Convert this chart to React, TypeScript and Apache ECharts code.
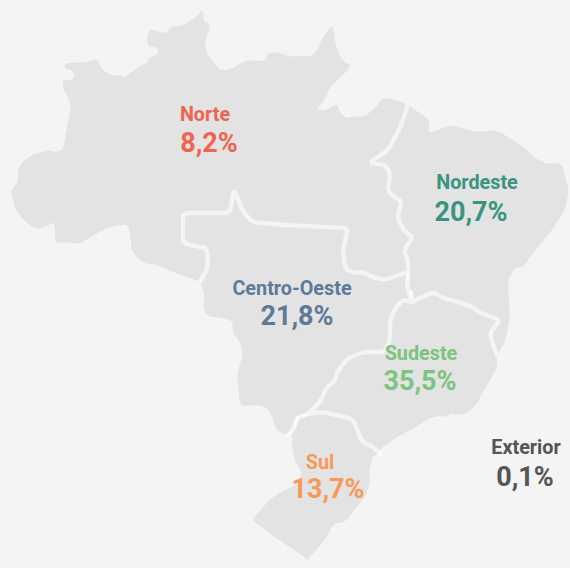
import React, { useEffect, useRef } from "react";
import * as echarts from "echarts";

type Pt = [number, number];

// Region labels and shares
const regionNames = ["Norte", "Nordeste", "Centro-Oeste", "Sudeste", "Sul", "Exterior"];
const regionShares = ["8,2%", "20,7%", "21,8%", "35,5%", "13,7%", "0,1%"];
const regionColors = ["#ef6450", "#3a9480", "#5d7a98", "#7cc47f", "#f7995a", "#555555"];
const nameAnchors: Pt[] = [[205, 114], [477, 182], [292, 288], [421, 353], [320, 462], [526, 447]];
const shareAnchors: Pt[] = [[209, 143], [471, 212], [297, 316], [420, 381], [328, 489], [525, 477]];

// Coast / frontier sections
const coastNorte: Pt[] = [
  [200, 282], [195, 280], [173, 272], [157, 265], [143, 263], [132, 252], [130, 233], [127, 224], [110, 227],
  [97, 233], [80, 244], [68, 242], [55, 243], [55, 230], [54, 222], [45, 227], [35, 229], [23, 220], [15, 208],
  [12, 197], [11, 190], [18, 182], [18, 170], [22, 162], [32, 155], [48, 150], [55, 152], [63, 150], [67, 127],
  [71, 107], [68, 97], [63, 88], [63, 80], [72, 80], [75, 75], [72, 70], [65, 69], [65, 63], [90, 62], [97, 58],
  [101, 68], [107, 73], [115, 76], [121, 74], [123, 78], [132, 72], [138, 67], [147, 63], [150, 57], [157, 55],
  [159, 50], [155, 47], [148, 46], [147, 40], [149, 29], [157, 31], [163, 33], [168, 32], [170, 27], [180, 26],
  [187, 23], [193, 19], [198, 15], [202, 9], [204, 17], [203, 20], [209, 24], [210, 29], [206, 38], [205, 47],
  [209, 57], [217, 67], [223, 71], [230, 69], [240, 64], [248, 60], [258, 61], [265, 61], [268, 53], [278, 52],
  [285, 55], [291, 57], [297, 55], [305, 57], [313, 55], [318, 48], [323, 37], [327, 32], [332, 26], [334, 32],
  [335, 42], [340, 57], [345, 62], [351, 65], [347, 71], [340, 78], [332, 85], [327, 93], [323, 102], [316, 109],
  [325, 111], [337, 103], [340, 113], [347, 118], [355, 116], [363, 117], [373, 110], [383, 98], [392, 99],
  [405, 103], [408, 105],
];
const coastNordeste: Pt[] = [
  [408, 105], [430, 120], [428, 132], [433, 132], [442, 128], [452, 125], [465, 129], [478, 132], [492, 130],
  [502, 133], [515, 142], [525, 148], [535, 158], [545, 163], [562, 164], [564, 173], [569, 190], [565, 210],
  [552, 230], [538, 247], [528, 260], [522, 268], [515, 267], [508, 280], [509, 300], [510, 315], [507, 333],
  [505, 342], [497, 355],
];
const coastSudeste: Pt[] = [
  [497, 355], [497, 367], [492, 377], [480, 397], [478, 403], [467, 413], [457, 415], [452, 413], [445, 417],
  [437, 416], [428, 419], [413, 429], [397, 437], [380, 449], [380, 454],
];
const coastSul: Pt[] = [
  [380, 454], [373, 456], [369, 471], [370, 484], [365, 497], [357, 507], [345, 522], [333, 524], [327, 537],
  [317, 549], [308, 559], [305, 568], [308, 561], [303, 556], [290, 547], [280, 541], [268, 532], [260, 526],
  [252, 520], [260, 511], [270, 499], [283, 491], [298, 484], [302, 472], [295, 461], [292, 447], [292, 436],
  [289, 435],
];
const coastCentroOeste: Pt[] = [
  [289, 435], [277, 431], [272, 417], [268, 409], [260, 405], [240, 406], [239, 394], [237, 374], [243, 354],
  [240, 342], [232, 331], [233, 322], [227, 319], [207, 316], [203, 307], [205, 297], [200, 282],
];

// Inner borders between regions
const borderNorteNordeste: Pt[] = [
  [408, 105], [400, 128], [388, 150], [369, 163], [385, 165], [390, 173], [388, 192], [402, 202], [397, 217],
  [405, 232], [413, 237], [404, 250], [408, 260], [408, 273],
];
const borderNorteCentro: Pt[] = [
  [200, 282], [208, 267], [207, 248], [195, 246], [183, 243], [183, 213], [230, 213], [234, 189], [242, 210],
  [252, 222], [285, 225], [348, 228], [343, 250], [345, 268], [353, 273], [363, 272], [372, 277], [385, 280],
  [405, 273], [408, 273],
];
const borderNordesteCentro: Pt[] = [[408, 273], [407, 287], [412, 302]];
const borderCentroSudeste: Pt[] = [
  [412, 302], [403, 300], [397, 306], [390, 319], [390, 339], [385, 352], [363, 352], [347, 359], [337, 372],
  [335, 381], [327, 387], [320, 402], [308, 414],
];
const borderNordesteSudeste: Pt[] = [
  [412, 302], [433, 292], [443, 298], [458, 302], [473, 307], [480, 313], [500, 320], [490, 333], [492, 342], [497, 355],
];
const borderSudesteSul: Pt[] = [[308, 414], [323, 412], [353, 419], [362, 442], [372, 446], [380, 454]];
const borderCentroSul: Pt[] = [[308, 414], [298, 417], [295, 426], [289, 435]];
// Short brighter stretches where the borders overlap
const borderGlints: Pt[][] = [
  [[408, 274], [408, 280]], [[411, 292], [412, 298]], [[298, 417], [295, 424]], [[304, 416], [306, 415]], [[380, 452], [380, 454]], [[288, 435], [290, 433]],
];

// Corner rounding of a traced outline, keeping its two end points
const CUT = 0.22;
const MAX_CUT = 3;
const round = (a: Pt[]): Pt[] => {
  const out: Pt[] = [a[0]];
  for (let i = 0; i < a.length - 1; i++) {
    const [x0, y0] = a[i];
    const [x1, y1] = a[i + 1];
    const len = Math.hypot(x1 - x0, y1 - y0) || 1;
    const t = Math.min(CUT, MAX_CUT / len);
    out.push([x0 + (x1 - x0) * t, y0 + (y1 - y0) * t]);
    out.push([x1 - (x1 - x0) * t, y1 - (y1 - y0) * t]);
  }
  out.push(a[a.length - 1]);
  return out;
};
const rev = (a: Pt[]) => [...a].reverse();
const flip = (a: Pt[]): Pt[] => a.map(([x, y]) => [x, -y] as Pt);

const cN = round(coastNorte), cNE = round(coastNordeste), cSE = round(coastSudeste), cS = round(coastSul), cCO = round(coastCentroOeste);
const bNNE = round(borderNorteNordeste), bNCO = round(borderNorteCentro), bNECO = round(borderNordesteCentro),
  bCOSE = round(borderCentroSudeste), bNESE = round(borderNordesteSudeste), bSES = round(borderSudesteSul), bCOS = round(borderCentroSul);

const regionRings: [string, Pt[]][] = [
  ["Norte", [...cN, ...bNNE, ...rev(bNCO)]],
  ["Nordeste", [...cNE, ...rev(bNESE), ...rev(bNECO), ...rev(bNNE)]],
  ["Sudeste", [...cSE, ...rev(bSES), ...rev(bCOSE), ...bNESE]],
  ["Sul", [...cS, ...rev(bCOS), ...bSES]],
  ["Centro-Oeste", [...cCO, ...bNCO, ...bNECO, ...bCOSE, ...bCOS]],
];
const innerBorders = [bNNE, bNCO, bNECO, bCOSE, bNESE, bSES, bCOS];

const FONT = "Roboto";

export default function App() {
  const ref = useRef<HTMLDivElement>(null);
  useEffect(() => {
    document.body.style.margin = "0";
    document.body.style.background = "#f4f4f4";
    const all = regionRings.flatMap(([, r]) => r);
    const xs = all.map((p) => p[0]);
    const ys = all.map((p) => p[1]);
    const minX = Math.min(...xs), maxX = Math.max(...xs), minY = Math.min(...ys), maxY = Math.max(...ys);
    echarts.registerMap("brasil", {
      type: "FeatureCollection",
      features: regionRings.map(([name, ring]) => ({
        type: "Feature",
        properties: { name },
        geometry: { type: "Polygon", coordinates: [[...flip(ring), flip(ring)[0]]] },
      })),
    } as any);
    const chart = echarts.init(ref.current!, undefined, { renderer: "svg" });
    const textSeries = (anchors: Pt[], texts: string[], size: number) => ({
      type: "scatter",
      coordinateSystem: "geo",
      silent: true,
      symbolSize: 1,
      itemStyle: { color: "transparent", opacity: 1 },
      data: anchors.map((p, i) => ({
        value: [p[0], -p[1]],
        label: {
          show: true,
          position: "inside",
          formatter: texts[i],
          color: regionColors[i],
          fontFamily: FONT,
          fontWeight: 700,
          fontSize: size,
        },
      })),
    });
    chart.setOption({
      animation: false,
      backgroundColor: "#f4f4f4",
      geo: {
        map: "brasil",
        aspectScale: 1,
        left: minX,
        top: minY,
        width: maxX - minX,
        height: maxY - minY,
        silent: true,
        roam: false,
        label: { show: false },
        itemStyle: { areaColor: "#e3e3e3", borderWidth: 0, borderColor: "#e3e3e3" },
      },
      series: [
        {
          type: "lines",
          coordinateSystem: "geo",
          polyline: true,
          silent: true,
          lineStyle: { color: "#f4f4f4", width: 4.4, opacity: 1, curveness: 0, cap: "round", join: "round" },
          data: innerBorders.map((b) => ({ coords: flip(b) })),
        },
        {
          type: "lines",
          coordinateSystem: "geo",
          polyline: true,
          silent: true,
          lineStyle: { color: "#fbfbfb", width: 3.4, opacity: 1, curveness: 0, cap: "round" },
          data: borderGlints.map((b) => ({ coords: flip(b) })),
        },
        textSeries(nameAnchors, regionNames, 19.8),
        textSeries(shareAnchors, regionShares, 27),
      ],
    });
    return () => chart.dispose();
  }, []);
  return <div ref={ref} style={{ width: 570, height: 568 }} />;
}
